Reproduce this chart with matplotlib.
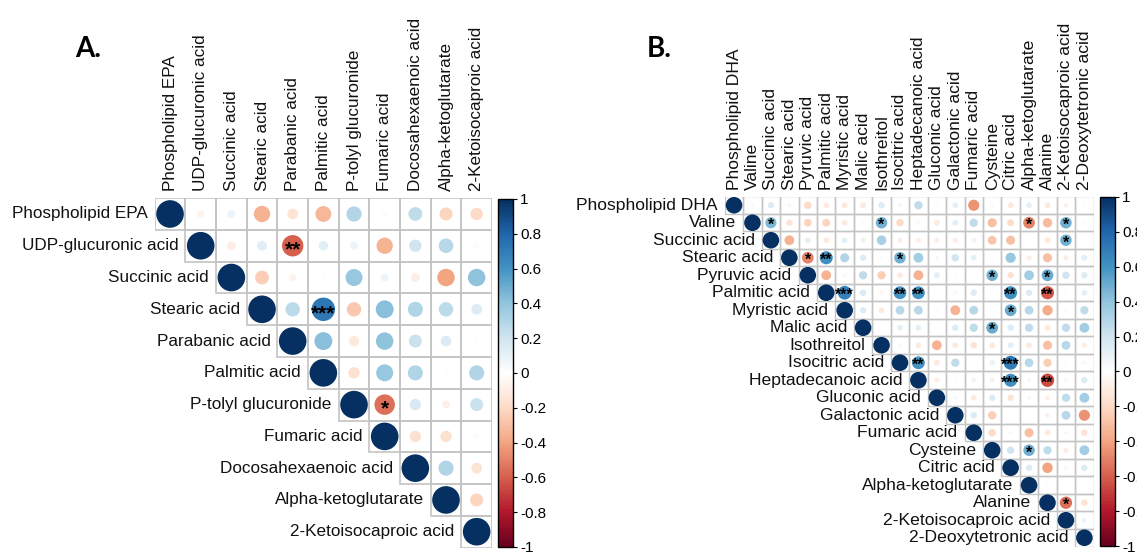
import numpy as np
import matplotlib.pyplot as plt
import matplotlib.cm as cm
from matplotlib.colors import LinearSegmentedColormap, Normalize
from matplotlib.patches import Ellipse, Rectangle

plt.rcParams['font.family'] = ['Liberation Sans', 'DejaVu Sans']

W, H = 1137, 552

# ---- panel A data (upper triangle, row by row, columns right of the diagonal)
names_a = ['Phospholipid EPA', 'UDP-glucuronic acid', 'Succinic acid', 'Stearic acid',
           'Parabanic acid', 'Palmitic acid', 'P-tolyl glucuronide', 'Fumaric acid',
           'Docosahexaenoic acid', 'Alpha-ketoglutarate', '2-Ketoisocaproic acid']
upper_a = [
    [-0.07, 0.08, -0.35, -0.15, -0.33, 0.30, -0.03, 0.25, -0.22, -0.20],
    [-0.10, 0.13, -0.60, 0.12, 0.08, -0.35, 0.20, 0.28, -0.03],
    [-0.25, -0.07, 0.02, 0.38, 0.08, -0.10, -0.40, 0.40],
    [0.27, 0.72, -0.27, 0.42, 0.30, 0.27, 0.15],
    [0.42, -0.13, 0.40, 0.22, 0.15, 0.02],
    [-0.17, 0.38, 0.30, 0.02, 0.30],
    [-0.55, 0.17, -0.08, 0.22],
    [-0.17, -0.17, 0.03],
    [0.30, -0.15],
    [-0.22],
]
stars_a = {(1, 4): '**', (3, 5): '***', (6, 7): '*'}

# ---- panel B data
names_b = ['Phospholipid DHA', 'Valine', 'Succinic acid', 'Stearic acid', 'Pyruvic acid',
           'Palmitic acid', 'Myristic acid', 'Malic acid', 'Isothreitol', 'Isocitric acid',
           'Heptadecanoic acid', 'Gluconic acid', 'Galactonic acid', 'Fumaric acid',
           'Cysteine', 'Citric acid', 'Alpha-ketoglutarate', 'Alanine',
           '2-Ketoisocaproic acid', '2-Deoxytetronic acid']
upper_b = [
    [0.05, 0.15, -0.05, -0.20, -0.12, -0.12, -0.12, 0.15, 0.05, 0.25, 0.03, 0.12, -0.45, -0.05, -0.12, 0.12, -0.12, -0.08, 0.03],
    [0.45, -0.15, -0.22, -0.22, -0.12, -0.03, 0.48, -0.20, 0.05, -0.12, 0.12, 0.25, -0.30, -0.18, -0.50, -0.32, 0.48, 0.03],
    [-0.35, 0.12, -0.12, 0.12, -0.10, 0.33, -0.10, -0.10, -0.10, -0.10, 0.08, -0.28, -0.30, -0.03, -0.12, 0.48, 0.03],
    [-0.50, 0.62, 0.30, 0.15, 0.03, 0.48, 0.35, 0.05, 0.20, 0.12, 0.02, 0.38, -0.10, -0.30, -0.10, 0.12],
    [-0.35, -0.05, 0.25, -0.25, -0.12, -0.35, 0.12, 0.03, 0.00, 0.48, -0.15, 0.35, 0.50, 0.20, 0.15],
    [0.68, 0.15, -0.05, 0.60, 0.60, 0.00, -0.05, 0.15, 0.00, 0.62, 0.15, -0.62, 0.03, 0.12],
    [0.15, -0.12, 0.28, 0.28, 0.03, -0.35, 0.28, 0.03, 0.50, 0.28, -0.38, 0.03, 0.25],
    [0.00, 0.12, 0.12, 0.03, 0.15, 0.25, 0.50, 0.15, 0.25, -0.12, 0.25, 0.35],
    [-0.05, -0.12, -0.35, -0.12, -0.15, -0.12, 0.12, -0.12, -0.30, 0.28, -0.10],
    [0.60, -0.12, 0.25, 0.03, 0.10, 0.70, 0.28, -0.25, 0.03, -0.05],
    [-0.10, -0.03, 0.08, -0.08, 0.62, 0.05, -0.65, 0.05, 0.15],
    [0.05, -0.12, 0.15, -0.15, 0.05, -0.08, 0.25, 0.35],
    [0.15, -0.25, 0.00, 0.02, -0.08, 0.28, -0.45],
    [-0.20, 0.05, -0.30, -0.12, 0.05, -0.15],
    [0.20, 0.48, 0.25, -0.10, 0.35],
    [0.15, -0.40, 0.05, 0.15],
    [0.03, 0.02, 0.02],
    [-0.55, -0.15],
    [0.08],
]
stars_b = {(1, 2): '*', (1, 8): '*', (1, 16): '*', (1, 18): '*', (2, 18): '*',
           (3, 4): '*', (3, 5): '**', (3, 9): '*', (4, 14): '*', (4, 17): '*',
           (5, 6): '***', (5, 9): '**', (5, 10): '**', (5, 15): '**', (5, 17): '**',
           (6, 15): '*', (7, 14): '*', (9, 10): '**', (9, 15): '***', (10, 15): '***',
           (10, 17): '**', (14, 16): '*', (17, 18): '*'}

cb_ticks = [1, 0.8, 0.6, 0.4, 0.2, 0, -0.2, -0.4, -0.6, -0.8, -1]
cb_labels = ['1', '0.8', '0.6', '0.4', '0.2', '0', '-0.2', '-0.4', '-0.6', '-0.8', '-1']

cmap = LinearSegmentedColormap.from_list('corr', [
    '#67001F', '#B2182B', '#D6604D', '#F4A582', '#FDDBC7', '#FFFFFF',
    '#D1E5F0', '#92C5DE', '#4393C3', '#2166AC', '#053061'])
norm = Normalize(-1, 1)


def full_matrix(upper):
    n = len(upper) + 1
    m = np.eye(n)
    for i, row in enumerate(upper):
        for k, v in enumerate(row):
            m[i, i + 1 + k] = v
    return m


def px_axes(fig, x0, y0, x1, y1):
    return fig.add_axes([x0 / W, 1 - y1 / H, (x1 - x0) / W, (y1 - y0) / H])


def corrplot(ax, names, mat, stars, fs, star_fs, star_dy, lw):
    n = len(names)
    ax.set_xlim(0.5, n + 0.5)
    ax.set_ylim(n + 0.5, 0.5)
    ax.axis('off')
    bb = ax.get_position()
    asp = (bb.width * W) / (bb.height * H)  # cell width / cell height in px
    for i in range(n):
        for j in range(i, n):
            ax.add_patch(Rectangle((j + 0.5, i + 0.5), 1, 1, fill=False,
                                   ec='#c4c4c4', lw=lw, zorder=1))
            r = mat[i, j]
            d = 0.9 * np.sqrt(abs(r))
            ax.add_patch(Ellipse((j + 1, i + 1), d, d * asp, fc=cmap(norm(r)),
                                 ec='none', zorder=2))
            if (i, j) in stars:
                ax.text(j + 1, i + 1 + star_dy, stars[(i, j)], ha='center', va='center',
                        fontsize=star_fs, fontweight='bold', zorder=3)
        ax.annotate(names[i], xy=(i + 0.5, i + 1), xytext=(-5, 0),
                    textcoords='offset points', ha='right', va='center',
                    fontsize=fs, color='#111111', annotation_clip=False)
        ax.annotate(names[i], xy=(i + 1, 0.5), xytext=(0, 5),
                    textcoords='offset points', ha='center', va='bottom',
                    rotation=90, fontsize=fs, color='#111111', annotation_clip=False)


def colorbar(fig, cax):
    cb = fig.colorbar(cm.ScalarMappable(norm=norm, cmap=cmap), cax=cax, ticks=cb_ticks)
    cb.ax.set_yticklabels(cb_labels)
    cb.outline.set_linewidth(1)
    cb.ax.tick_params(length=3, width=0.8, labelsize=11, pad=2)


fig = plt.figure(figsize=(W / 100, H / 100), dpi=100)
fig.patch.set_facecolor('white')

ax_a = px_axes(fig, 154.7, 198.1, 492.0, 547.6)
corrplot(ax_a, names_a, full_matrix(upper_a), stars_a, 12.3, 15, 0.14, 1.2)
colorbar(fig, px_axes(fig, 498, 199, 513, 547))

ax_b = px_axes(fig, 724.8, 196.5, 1093.6, 546.5)
corrplot(ax_b, names_b, full_matrix(upper_b), stars_b, 12.6, 11.5, 0.16, 1.0)
colorbar(fig, px_axes(fig, 1100, 197, 1115, 546))

fig.text(75 / W, 1 - 49 / H, 'A.', fontsize=20, fontweight='bold', va='center',
         family=['Lato', 'DejaVu Sans'])
fig.text(647 / W, 1 - 49 / H, 'B.', fontsize=20, fontweight='bold', va='center',
         family=['Lato', 'DejaVu Sans'])

fig.savefig('out.png', dpi=100, facecolor='white')
